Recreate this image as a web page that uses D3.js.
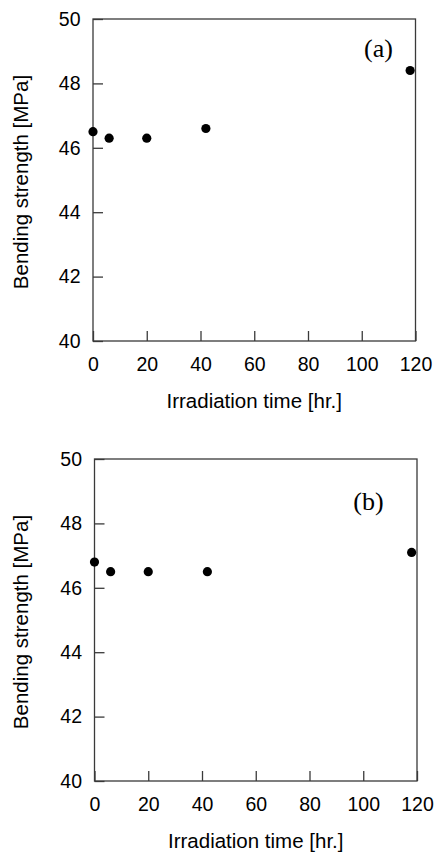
<!DOCTYPE html>
<html>
<head>
<meta charset="utf-8">
<script src="https://cdn.jsdelivr.net/npm/d3@7"></script>
<style>
  html, body { margin: 0; padding: 0; background: #fff; }
  svg { display: block; }
</style>
</head>
<body>
<script>
// ---- data ----
const timeA = [0, 6, 20, 42, 118];
const strengthA = [46.5, 46.3, 46.3, 46.6, 48.4];
const timeB = [0, 6, 20, 42, 118];
const strengthB = [46.8, 46.5, 46.5, 46.5, 47.1];
const xTicks = [0, 20, 40, 60, 80, 100, 120];
const yTicks = [40, 42, 44, 46, 48, 50];
const panelLabels = ["(a)", "(b)"];
const xTitle = "Irradiation time [hr.]";
const yTitle = "Bending strength [MPa]";

const W = 441, H = 852;
const svg = d3.select("body").append("svg").attr("width", W).attr("height", H);

const panels = [
  { times: timeA, values: strengthA, label: panelLabels[0], left: 93, right: 415.5, top: 19, bottom: 341, labelX: 378.5, labelY: 57 },
  { times: timeB, values: strengthB, label: panelLabels[1], left: 94.5, right: 417, top: 459, bottom: 781, labelX: 368.5, labelY: 510 }
];

const axisColor = "#3a3a3a";
const textColor = "#000";

panels.forEach(p => {
  const x = d3.scaleLinear().domain([0, 120]).range([p.left, p.right]);
  const y = d3.scaleLinear().domain([40, 50]).range([p.bottom, p.top]);
  const g = svg.append("g");

  // x axis
  const xa = g.append("g").attr("transform", `translate(0,${p.bottom})`)
    .call(d3.axisBottom(x).tickValues(xTicks).tickFormat(d3.format("d"))
      .tickSizeInner(-10).tickSizeOuter(0).tickPadding(16));
  // y axis
  const ya = g.append("g").attr("transform", `translate(${p.left},0)`)
    .call(d3.axisLeft(y).tickValues(yTicks).tickFormat(d3.format("d"))
      .tickSizeInner(-10).tickSizeOuter(0).tickPadding(12.5));

  [xa, ya].forEach(a => {
    a.select(".domain").remove();
    a.selectAll(".tick line").attr("stroke", axisColor).attr("stroke-width", 1.3);
    a.selectAll(".tick text").attr("fill", textColor)
      .style("font-family", "'Liberation Sans', Arial, sans-serif").style("font-size", "19.5px");
  });

  // frame
  g.append("rect")
    .attr("x", p.left).attr("y", p.top)
    .attr("width", p.right - p.left).attr("height", p.bottom - p.top)
    .attr("fill", "none").attr("stroke", axisColor).attr("stroke-width", 1.3);

  // points
  g.selectAll("circle.pt").data(p.times.map((t, i) => ({ t, v: p.values[i] })))
    .enter().append("circle").attr("class", "pt")
    .attr("cx", d => x(d.t)).attr("cy", d => y(d.v)).attr("r", 4.6)
    .attr("fill", "#000");

  // panel label
  g.append("text").attr("x", p.labelX).attr("y", p.labelY)
    .attr("text-anchor", "middle").attr("fill", textColor)
    .style("font-family", "'Liberation Serif', 'Times New Roman', serif").style("font-size", "26px")
    .text(p.label);

  // x title
  g.append("text").attr("x", (p.left + p.right) / 2).attr("y", p.bottom + 67)
    .attr("text-anchor", "middle").attr("fill", textColor)
    .style("font-family", "'Liberation Sans', Arial, sans-serif").style("font-size", "20.5px")
    .text(xTitle);

  // y title
  g.append("text")
    .attr("transform", `translate(28,${(p.top + p.bottom) / 2 + 2}) rotate(-90)`)
    .attr("text-anchor", "middle").attr("fill", textColor)
    .style("font-family", "'Liberation Sans', Arial, sans-serif").style("font-size", "20.5px")
    .text(yTitle);
});
</script>
</body>
</html>
